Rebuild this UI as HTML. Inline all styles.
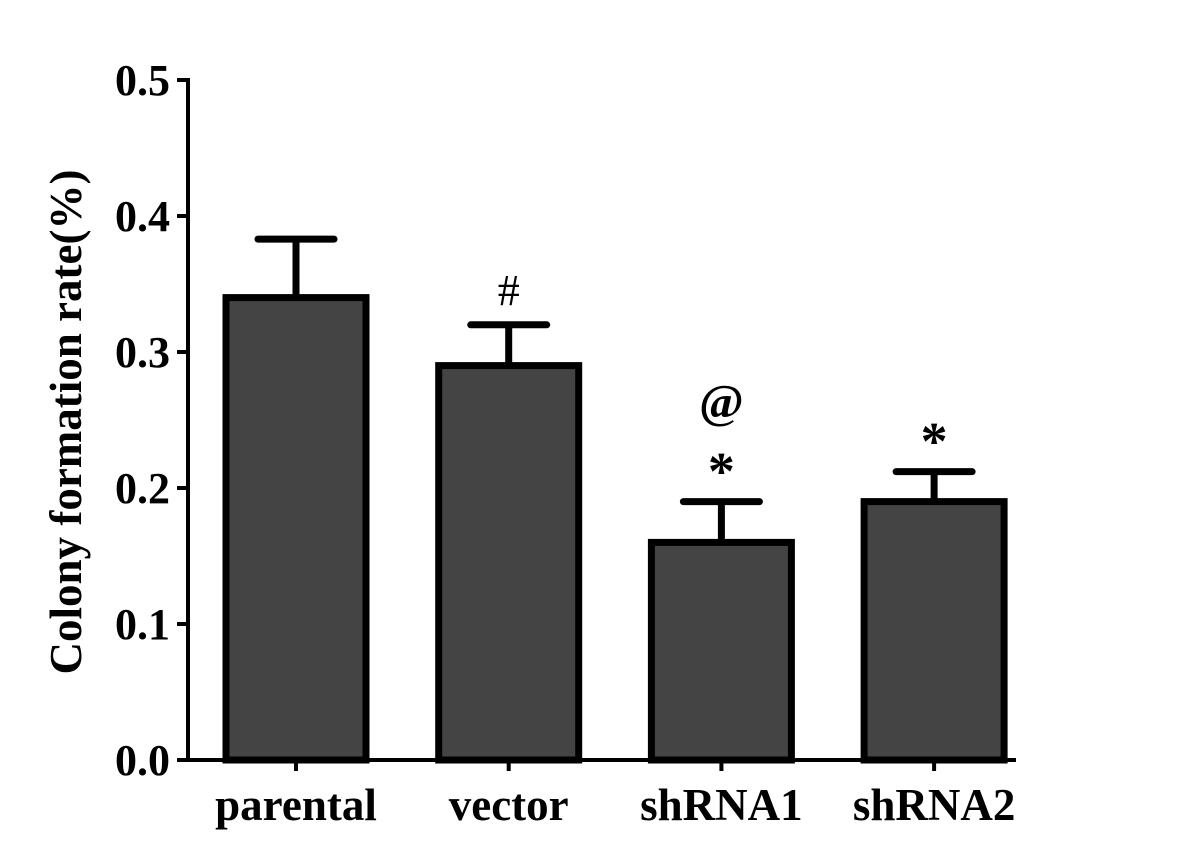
<!DOCTYPE html>
<html><head><meta charset="utf-8"><style>
html,body{margin:0;padding:0;background:#fff;}
svg{display:block;font-family:"Liberation Serif",serif;}
</style></head><body>
<svg id="chart" width="1181" height="866" viewBox="0 0 1181 866" xmlns="http://www.w3.org/2000/svg">
<g id="g"></g>
</svg>
<script>
const categories = ["parental","vector","shRNA1","shRNA2"];
const values = [0.34, 0.29, 0.16, 0.19];
const errors = [0.043, 0.03, 0.03, 0.022];
const yTicks = [0.0, 0.1, 0.2, 0.3, 0.4, 0.5];
const yTickLabels = ["0.0","0.1","0.2","0.3","0.4","0.5"];
const annotations = [[], ["#"], ["*","@"], ["*"]];

const NS = "http://www.w3.org/2000/svg";
const g = document.getElementById("g");
const y0 = 760, yTop = 80, xAxis = 188;
function y(v){ return y0 - (v/0.5)*(y0-yTop); }
function x(i){ return 296 + i*212.7; }
function el(tag, attrs, parent){
  const e = document.createElementNS(NS, tag);
  for (const k in attrs) e.setAttribute(k, attrs[k]);
  (parent||g).appendChild(e); return e;
}
values.forEach((v,i)=>{
  const cx = x(i);
  const eb = el("g", {});
  
  
  el("line",{x1:cx,x2:cx,y1:y(v),y2:y(v+errors[i]),stroke:"#000","stroke-width":7},eb);
  el("line",{x1:cx-38,x2:cx+38,y1:y(v+errors[i]),y2:y(v+errors[i]),stroke:"#000","stroke-width":7,"stroke-linecap":"round"},eb);
  const r = el("rect",{x:cx-70,y:y(v),width:140,height:y0-y(v),fill:"#444",stroke:"#000","stroke-width":7});
  
  
  el("line",{x1:cx,x2:cx,y1:y0,y2:y0+11,stroke:"#000","stroke-width":4});
  const t = el("text",{x:cx,y:820,"text-anchor":"middle","font-size":45,"font-weight":"bold"});
  t.textContent = categories[i];
  
  
  let ay = y(v+errors[i]) - 42;
  annotations[i].forEach(a=>{
    const isStar = a==="*";
    const isAt = a==="@";
    const yy = isStar ? ay+30 : (isAt ? ay+18 : ay+22);
    const at = el("text",{x:cx,y:yy,"text-anchor":"middle","font-size": isStar?54:(isAt?48:44),"font-weight": a==="#"?"normal":"bold"});
    at.textContent = a;
    
    
    ay -= 60;
  });
});
const ya = el("line",{x1:xAxis,x2:xAxis,y1:yTop-2,y2:y0+2,stroke:"#000","stroke-width":4});


const xa = el("line",{x1:xAxis,x2:1016,y1:y0,y2:y0,stroke:"#000","stroke-width":4});


yTicks.forEach((v,i)=>{
  el("line",{x1:177,x2:xAxis,y1:y(v),y2:y(v),stroke:"#000","stroke-width":4});
  const t = el("text",{x:170,y:y(v)+15,"text-anchor":"end","font-size":44,"font-weight":"bold"});
  t.textContent = yTickLabels[i];
  
  
});
const yt = el("text",{x:0,y:0,"text-anchor":"middle","font-size":45,"font-weight":"bold",transform:"translate(81,422) rotate(-90)"});
yt.textContent = "Colony formation rate(%)";


</script>
</body></html>
